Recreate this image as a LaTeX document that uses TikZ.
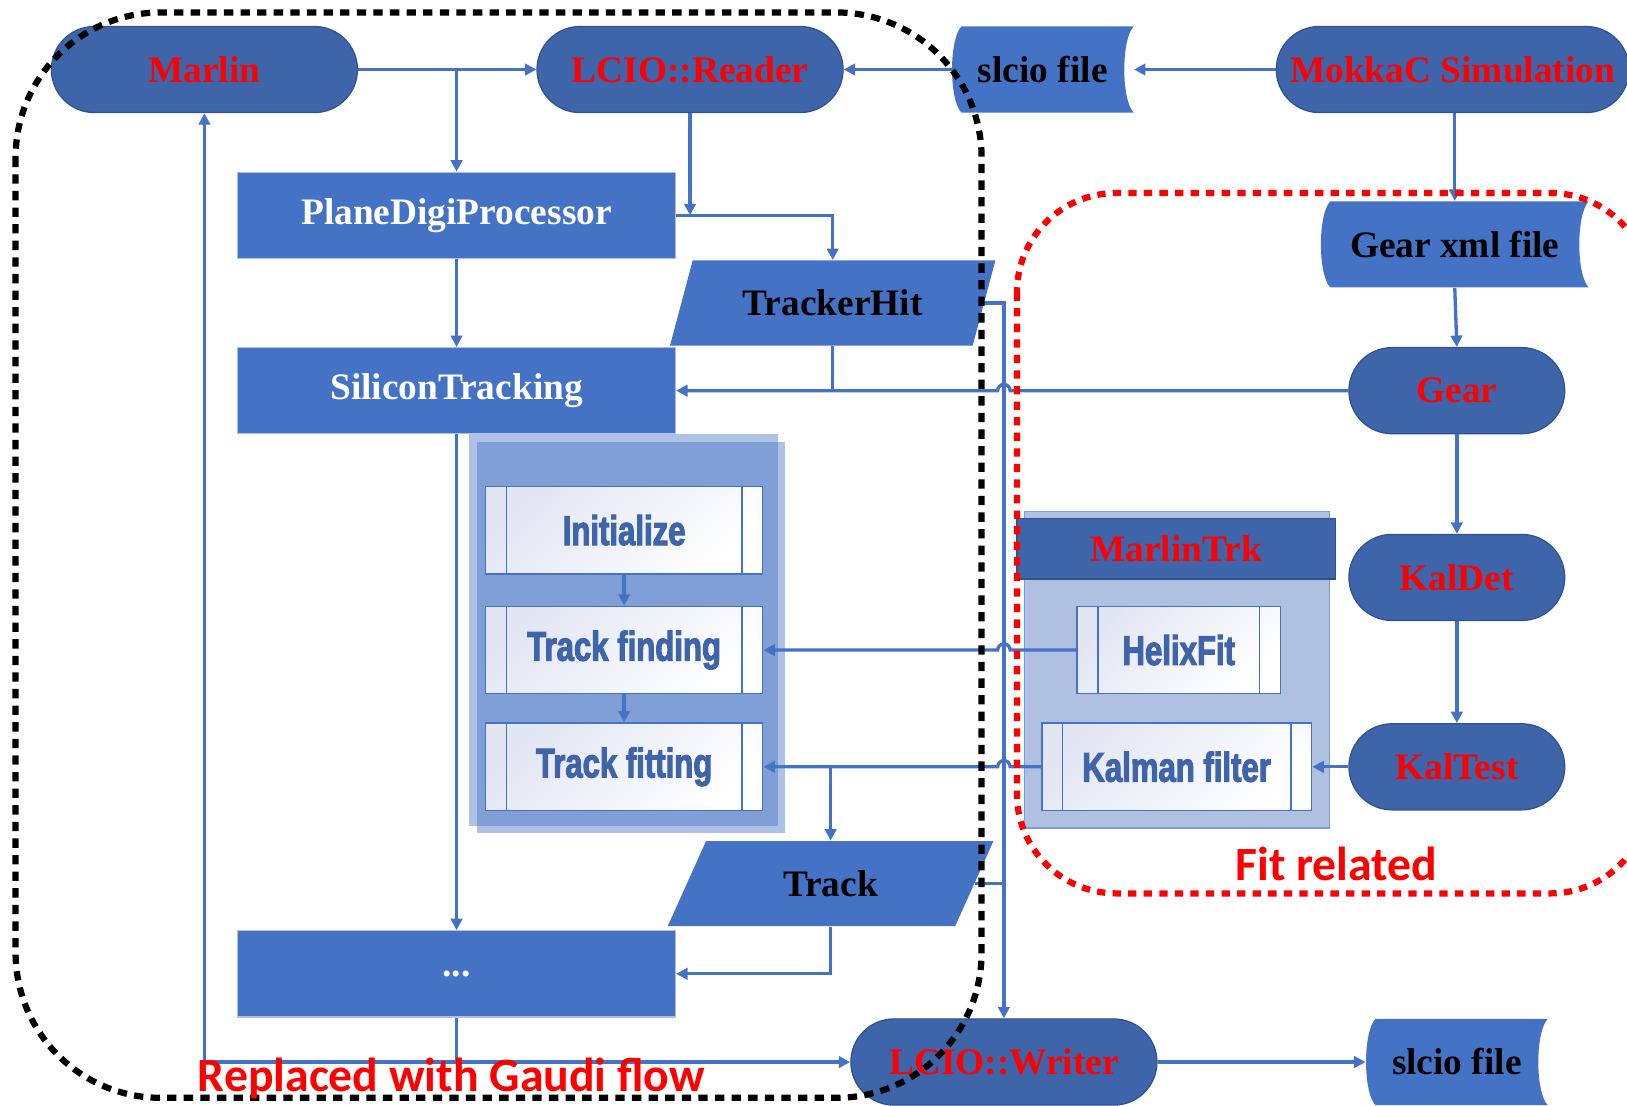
\documentclass[tikz,border=0pt]{standalone}
\usepackage{fontspec}
\setmainfont{Liberation Serif}
\newfontfamily\condfont[FakeStretch=0.75,FakeBold=2.5]{Liberation Sans}
\newfontfamily\calfont{Carlito}
\usetikzlibrary{shapes.misc,shapes.geometric,arrows.meta,calc}
\definecolor{rectblue}{HTML}{4472C4}
\definecolor{darkblue}{HTML}{3E64AA}
\definecolor{edgeblue}{HTML}{2F528F}
\definecolor{textblue}{HTML}{3F64AA}
\definecolor{lightgrp}{HTML}{AFC0E0}
\definecolor{lavender}{HTML}{E2E6F3}
\begin{document}
\begin{tikzpicture}[x=0.5pt,y=-0.5pt,
  serifbig/.style={font={\bfseries\fontsize{18}{20}\selectfont}},
  stadium/.style={rounded rectangle, fill=darkblue, draw=edgeblue, line width=0.6pt,
    minimum height=41.5pt, inner sep=0pt, text=red, serifbig},
  procbox/.style={rectangle, fill=rectblue, draw=rectblue!45, line width=0.6pt,
    minimum width=211pt, minimum height=41.5pt, inner sep=0pt, text=white, serifbig},
  datafile/.style={rectangle, minimum height=41.5pt, inner sep=0pt, text=black, serifbig,
    path picture={\fill[rectblue] let \p1=(path picture bounding box.north west),
      \p2=(path picture bounding box.south east), \n1={(\y1-\y2)*0.15} in
      ({\x1+4.5pt},\y1) -- (\x2,\y1)
      .. controls ({\x2-6pt},{\y1-\n1}) and ({\x2-6pt},{\y2+\n1}) .. (\x2,\y2)
      -- ({\x1+4.5pt},\y2)
      .. controls ({\x1-1.5pt},{\y2+\n1}) and ({\x1-1.5pt},{\y1-\n1}) .. ({\x1+4.5pt},\y1) -- cycle;}},
  iobox/.style={trapezium, trapezium left angle=61, trapezium right angle=119,
    trapezium stretches=true, fill=rectblue, minimum width=157.5pt, minimum height=41pt,
    inner sep=0pt, text=black, serifbig},
  predef/.style={rectangle, draw=rectblue, line width=0.8pt, top color=lavender,
    bottom color=white, shading angle=45, minimum height=42pt, inner sep=0pt,
    text=textblue, font={\condfont\bfseries\fontsize{20}{22}\selectfont},
    path picture={\draw[rectblue, line width=0.7pt]
      ([xshift=10pt]path picture bounding box.north west) -- ([xshift=10pt]path picture bounding box.south west)
      ([xshift=-10pt]path picture bounding box.north east) -- ([xshift=-10pt]path picture bounding box.south east);}},
  arr/.style={draw=rectblue, line width=1.6pt, -{Triangle[length=5.5pt,width=5.5pt]}},
  conn/.style={draw=rectblue, line width=1.6pt},
  grpbox/.style={fill=rectblue, fill opacity=0.43},
  lbl/.style={text=red, font={\calfont\bfseries\fontsize{23}{25}\selectfont}}
]
\useasboundingbox (0,0) rectangle (1568,1065);

% group backgrounds
\fill[grpbox] (452,418) rectangle (750,796);
\fill[grpbox] (460,426) rectangle (757,803);
\filldraw[fill=lightgrp, draw=rectblue!70, line width=0.6pt] (987,493) rectangle (1281,798);

% nodes
\node[stadium, minimum width=147.5pt] (marlin) at (197,67) {Marlin};
\node[stadium, minimum width=147.5pt] (reader) at (665,67) {LCIO::Reader};
\node[datafile, minimum width=87.5pt] (slcioA) at (1005,67) {slcio file};
\node[stadium, minimum width=170pt] (mokka) at (1400,67) {MokkaC Simulation};
\node[procbox] (plane) at (440,207.5) {PlaneDigiProcessor};
\node[iobox] (th) at (802.5,292) {TrackerHit};
\node[procbox] (sil) at (440,376.5) {SiliconTracking};
\node[datafile, minimum width=129pt] (gearxml) at (1402,235.5) {Gear xml file};
\node[stadium, minimum width=104pt] (gear) at (1404,376.5) {Gear};
\node[predef, minimum width=133.5pt] (init) at (601.5,511) {Initialize};
\node[predef, minimum width=133.5pt] (finding) at (601.5,626.5) {Track finding};
\node[predef, minimum width=133.5pt] (fitting) at (601.5,739) {Track fitting};
\node[rectangle, fill=darkblue, draw=edgeblue, line width=0.6pt, minimum width=153.5pt,
  minimum height=29pt, inner sep=0pt, text=red, serifbig] (mtrk) at (1133.5,529) {MarlinTrk};
\node[predef, minimum width=98pt] (helix) at (1136,626.5) {HelixFit};
\node[predef, minimum width=130pt] (kalman) at (1134,739) {Kalman filter};
\node[stadium, minimum width=104pt] (kaldet) at (1404,556.5) {KalDet};
\node[stadium, minimum width=104pt] (kaltest) at (1404,739) {KalTest};
\node[iobox] (track) at (800.5,851.5) {Track};
\node[procbox, text depth=-6pt] (dots) at (440,938.5) {...};
\node[stadium, minimum width=147.5pt] (writer) at (967.5,1023.5) {LCIO::Writer};
\node[datafile, minimum width=87.5pt] (slcioB) at (1404,1023.5) {slcio file};

% connectors
\draw[arr] (marlin.east) -- (reader.west);
\draw[arr] (plane.north |- marlin.east) -- (plane.north);
\draw[arr] (reader.south) -- (reader.south |- plane.east);
\draw[arr] (plane.east) -| (th.north);
\draw[arr] (plane.south) -- (sil.north);
\draw[conn] (th.south) -- (th.south |- sil.east);
\draw[arr] (gear.west) -- ([xshift=3pt]writer.north |- gear.west)
  arc[start angle=0,end angle=180,radius=3pt] -- (sil.east);
\draw[arr] (slcioA.west) -- (reader.east);
\draw[arr] (mokka.west) -- (slcioA.east);
\draw[arr] (gearxml.north |- mokka.south) -- (gearxml.north);
\draw[arr] (gearxml.south) -- (gear.north);
\draw[arr] (gear.south) -- (kaldet.north);
\draw[arr] (kaldet.south) -- (kaltest.north);
\draw[arr] (kaltest.west) -- (kalman.east);
\draw[arr] (kalman.west) -- ([xshift=3pt]writer.north |- kalman.west)
  arc[start angle=0,end angle=180,radius=3pt] -- (fitting.east);
\draw[arr] (helix.west) -- ([xshift=3pt]writer.north |- helix.west)
  arc[start angle=0,end angle=180,radius=3pt] -- (finding.east);
\draw[arr] (init.south) -- (finding.north);
\draw[arr] (finding.south) -- (fitting.north);
\draw[arr] (track.north |- fitting.east) -- (track.north);
\draw[arr] (track.south) |- (dots.east);
\draw[arr] (sil.south) -- (dots.north);
\draw[arr] (dots.south) |- (writer.west);
\draw[arr] (dots.south |- writer.west) -| (marlin.south);
\draw[arr] (writer.east) -- (slcioB.west);
\draw[arr] (th.east) -| (writer.north);
\draw[conn] (track.east) -- (track.east -| writer.north);

% regions
\draw[black, line width=3pt, dash pattern=on 4.5pt off 3.5pt, rounded corners=70pt]
  (15,12) rectangle (946,1058);
\draw[red, line width=3pt, dash pattern=on 4pt off 3.5pt, rounded corners=48pt]
  (980,186) rectangle (1590,861);

\node[lbl] (fitlbl) at (1288,833) {Fit related};
\node[lbl] (gaudilbl) at (435,1039) {Replaced with Gaudi flow};
\end{tikzpicture}
\end{document}
